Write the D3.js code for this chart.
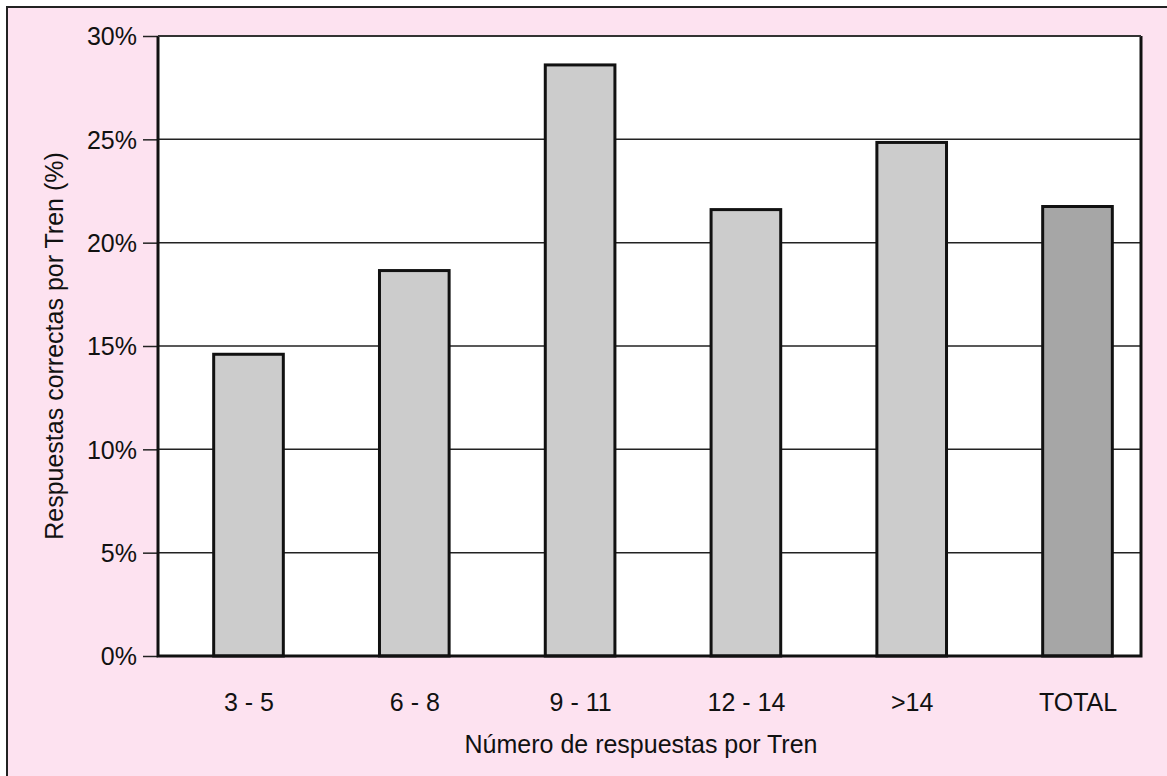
<!DOCTYPE html>
<html><head><meta charset="utf-8">
<script src="https://cdn.jsdelivr.net/npm/d3@7"></script>
<style>body{margin:0;background:#fff}svg{display:block}</style>
</head><body>
<script>
const categories = ["3 - 5", "6 - 8", "9 - 11", "12 - 14", ">14", "TOTAL"];
const values = [14.6, 18.65, 28.6, 21.6, 24.85, 21.75];
const tickValues = [0, 5, 10, 15, 20, 25, 30];
const xTitle = "Número de respuestas por Tren";
const yTitle = "Respuestas correctas por Tren (%)";

const W = 1167, H = 776;
const svg = d3.select("body").append("svg").attr("width", W).attr("height", H);
const font = "Liberation Sans, Arial, sans-serif";
const fs = 25;

svg.append("rect").attr("x", 7).attr("y", 7).attr("width", W + 10).attr("height", H + 10)
  .attr("fill", "#fde2f0").attr("stroke", "#222").attr("stroke-width", 2);

const L = 158, R = 1141, T = 36, B = 656;
svg.append("rect").attr("x", L).attr("y", T).attr("width", R - L).attr("height", B - T).attr("fill", "#fff");

const y = d3.scaleLinear().domain([0, 30]).range([B, T]);
const x = d3.scalePoint().domain(categories).range([248.5, 1077.5]);
const bw = x.step() * 0.42;

// gridlines
svg.append("g").selectAll("line").data(tickValues.filter(v => v > 0)).join("line")
  .attr("x1", L).attr("x2", R).attr("y1", d => y(d)).attr("y2", d => y(d))
  .attr("stroke", "#222").attr("stroke-width", 1.5);

// bars
svg.append("g").selectAll("rect").data(categories).join("rect")
  .attr("x", d => x(d) - bw / 2).attr("width", bw)
  .attr("y", (d, i) => y(values[i])).attr("height", (d, i) => B - y(values[i]))
  .attr("fill", d => d === "TOTAL" ? "#a6a6a6" : "#cccccc")
  .attr("stroke", "#111").attr("stroke-width", 3);

// y axis
const yAxis = d3.axisLeft(y).tickValues(tickValues).tickFormat(d => d + "%").tickSize(15).tickPadding(6);
const ga = svg.append("g").attr("transform", `translate(${L},0)`).call(yAxis);
ga.attr("font-size", fs).attr("font-family", font);
ga.select(".domain").remove();
ga.selectAll(".tick line").attr("stroke", "#222").attr("stroke-width", 1.5);
ga.selectAll(".tick text").attr("fill", "#111").attr("dy", "0.35em");

// x axis labels
const xAxis = d3.axisBottom(x).tickSize(0).tickPadding(37);
const gx = svg.append("g").attr("transform", `translate(0,${B})`).call(xAxis);
gx.attr("font-size", fs).attr("font-family", font);
gx.select(".domain").remove();
gx.selectAll(".tick text").attr("fill", "#111");

// plot frame (left, right, bottom thick)
svg.append("path").attr("d", `M${L},${T}V${B}H${R}V${T}`).attr("fill", "none")
  .attr("stroke", "#111").attr("stroke-width", 3);
svg.append("line").attr("x1", L).attr("x2", R).attr("y1", T).attr("y2", T)
  .attr("stroke", "#333").attr("stroke-width", 2);

svg.append("text").attr("x", 641).attr("y", 753).attr("text-anchor", "middle")
  .attr("font-family", font).attr("font-size", fs).attr("fill", "#111").text(xTitle);
svg.append("text").attr("transform", "translate(63,346) rotate(-90)").attr("text-anchor", "middle")
  .attr("font-family", font).attr("font-size", fs).attr("fill", "#111").text(yTitle);
</script>
</body></html>
